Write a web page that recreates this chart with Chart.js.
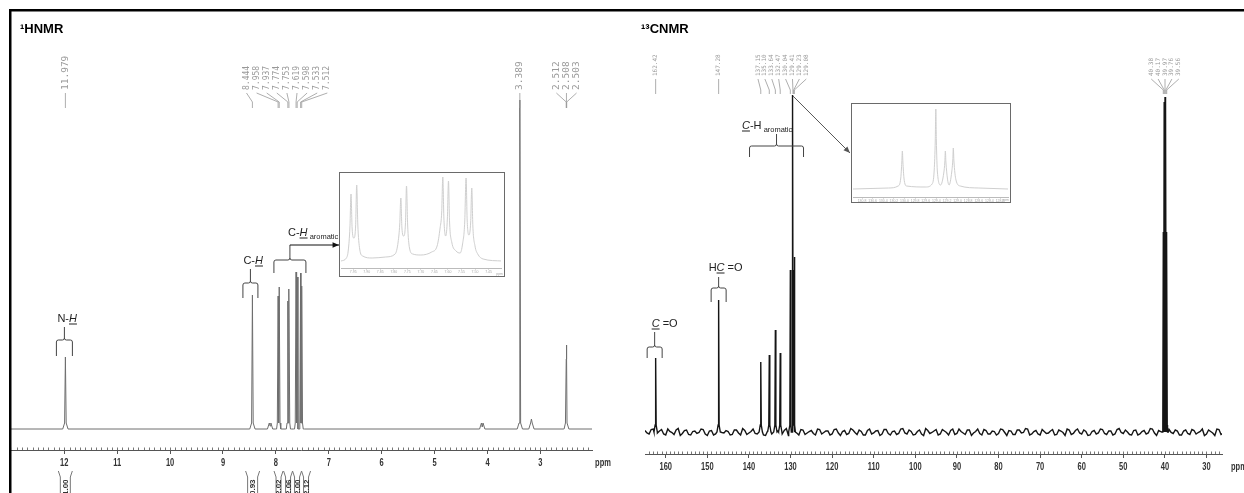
<!DOCTYPE html>
<html>
<head>
<meta charset="utf-8">
<script src="https://cdn.jsdelivr.net/npm/chart.js@4.4.1/dist/chart.umd.min.js"></script>
<style>
  body { margin: 0; background: #fff; }
  #wrap { position: relative; width: 1244px; height: 493px; overflow: hidden; background: #fff; }
  canvas { position: absolute; }
</style>
</head>
<body>
<div id="wrap">
  <canvas id="hChart" width="620" height="493" style="left:0;top:0"></canvas>
  <canvas id="cChart" width="624" height="493" style="left:620px;top:0"></canvas>
  <canvas id="hInset" width="166" height="105" style="left:339px;top:172px"></canvas>
  <canvas id="cInset" width="160" height="100" style="left:851px;top:103px"></canvas>
</div>
<script>
// ---- 1H NMR data (ppm / peak height) ----
const hTicks = [12, 11, 10, 9, 8, 7, 6, 5, 4, 3];
const hPeakPpm    = [11.979, 8.444, 8.11, 7.958, 7.937, 7.774, 7.753, 7.619, 7.598, 7.533, 7.512, 4.10, 3.389, 3.17, 2.512, 2.508, 2.503];
const hPeakHeight = [72,     134,   3,    133,   142,   128,   140,   157,   152,   156,   143,   2,    329,   10,   70,    84,    70];
const hLabelGroups = [
  ['11.979'],
  ['8.444', '7.958', '7.937', '7.774', '7.753', '7.619', '7.598', '7.533', '7.512'],
  ['3.389'],
  ['2.512', '2.508', '2.503']
];
const hIntegralPpm = [11.98, 8.44, 7.95, 7.77, 7.60, 7.43];
const hIntegralValues = ['1.00', '0.93', '2.02', '2.06', '2.00', '2.12'];

// zoomed aromatic region (inset)
const hInsetTicks = [7.95, 7.90, 7.85, 7.80, 7.75, 7.70, 7.65, 7.60, 7.55, 7.50, 7.45];
const hInsetPpm = [7.995, 7.975, 7.968, 7.962, 7.958, 7.954, 7.9475, 7.941, 7.937, 7.933, 7.926, 7.915, 7.88, 7.83,
  7.795, 7.784, 7.778, 7.774, 7.770, 7.7635, 7.757, 7.753, 7.749, 7.742, 7.73, 7.70, 7.66, 7.64, 7.629, 7.623,
  7.619, 7.615, 7.6085, 7.602, 7.598, 7.594, 7.586, 7.57, 7.555, 7.546, 7.538, 7.533, 7.529, 7.5225, 7.516,
  7.512, 7.508, 7.50, 7.49, 7.47, 7.40];
const hInsetHeight = [1, 4, 12, 35, 68, 34, 24, 36, 77, 38, 13, 6, 4, 5,
  8, 20, 38, 64, 34, 26, 38, 76, 38, 14, 8, 7, 10, 16, 34, 50,
  85, 44, 26, 44, 81, 40, 20, 11, 9, 18, 40, 84, 42, 27, 40,
  74, 36, 16, 8, 3, 1];

// ---- 13C NMR data ----
const cTicks = [160, 150, 140, 130, 120, 110, 100, 90, 80, 70, 60, 50, 40, 30];
const cPeakPpm    = [162.42, 147.28, 137.15, 135.10, 133.64, 132.47, 130.04, 129.41, 129.23, 129.08, 40.38, 40.17, 39.97, 39.76, 39.56];
const cPeakHeight = [74,     132,    70,     77,     102,    79,     162,    337,    162,    175,    200,   330,   335,   330,   200];
const cLabelGroups = [
  ['162.42'],
  ['147.28'],
  ['137.15', '135.10', '133.64', '132.47', '130.04', '129.41', '129.23', '129.08'],
  ['40.38', '40.17', '39.97', '39.76', '39.56']
];
// baseline noise: one value per ppm from 165 down, and one for each half ppm from 164.5 down
const cNoiseStart = 165;
const cNoise = [
  1.5, -2, 3, -1, 2.5, -3, 0.5, -2.5, 3.5, -1.5,
  2, -3, 1, -0.5, 2.5, -3.5, 1.5, -2, 3, -1,
  0.5, -2.5, 2, -3, 1.5, -1, 3, -2, 0.5, -3.5,
  2.5, -1.5, 1, -2, 3.5, -2.5, 0, -3, 2, -1,
  1.5, -3, 2.5, -0.5, 1, -2, 3, -3.5, 1.5, -1.5,
  2, -2.5, 0.5, -3, 3, -1, 1.5, -2, 2.5, -3,
  1, -1.5, 3.5, -2, 0.5, -2.5, 2, -3.5, 1.5, -0.5,
  2.5, -2, 1, -3, 3, -1.5, 0.5, -2.5, 2, -1,
  3, -3, 1.5, -2, 0.5, -1.5, 2.5, -3.5, 1, -2.5,
  2, -0.5, 3, -2, 1.5, -3, 0.5, -1, 2.5, -2.5,
  1, -3.5, 2, -1.5, 3, -2, 0.5, -3, 1.5, -1,
  2.5, -2.5, 1, -2, 3.5, -1.5, 0, -3, 2, -2,
  1.5, -1, 3, -3.5, 0.5, -2, 2.5, -1.5, 1, -3,
  2, -2.5, 1.5, -0.5, 3, -2, 0.5, -3.5, 2.5, -1.5
];
const cNoiseHalf = [
  -1, 2.5, -3, 1, -2, 3, -0.5, 2, -3.5, 1.5,
  -2.5, 0.5, -1.5, 3, -2, 1, -3, 2.5, -0.5, 1.5,
  -3, 2, -1, 3.5, -2.5, 0.5, -1.5, 2.5, -3, 1,
  -2, 3, -0.5, 1.5, -3.5, 2, -1, 2.5, -2.5, 0.5,
  -1.5, 3, -2, 1, -3, 2.5, -1, 0.5, -2.5, 3.5,
  -0.5, 2, -3, 1.5, -2, 1, -3.5, 2.5, -1.5, 0.5,
  -2.5, 3, -1, 2, -3, 0.5, -2, 3.5, -1.5, 1,
  -3, 2.5, -0.5, 1.5, -2.5, 3, -1, 2, -3.5, 0.5,
  -1.5, 2.5, -2, 1, -3, 3, -0.5, 1.5, -2.5, 2,
  -1, 3.5, -3, 0.5, -2, 2.5, -1.5, 1, -3, 2,
  -0.5, 3, -2.5, 1.5, -1, 2, -3.5, 0.5, -2, 3,
  -1.5, 1, -3, 2.5, -0.5, 2, -2.5, 1.5, -3, 0.5,
  -2, 3.5, -1, 1.5, -2.5, 3, -0.5, 2, -3, 1,
  -1.5, 2.5, -2, 0.5, -3.5, 2, -1, 3, -2.5
];
const cInsetTicks = [130.8, 130.6, 130.4, 130.2, 130.0, 129.8, 129.6, 129.4, 129.2, 129.0, 128.8, 128.6, 128.4, 128.2];
const cInsetPpm    = [130.97, 130.3, 130.12, 130.07, 130.05, 130.04, 130.03, 130.01, 129.96, 129.6, 129.48, 129.44, 129.42,
  129.41, 129.40, 129.38, 129.32, 129.26, 129.24, 129.23, 129.22, 129.16, 129.11, 129.09, 129.08, 129.07, 129.03, 128.95, 128.6, 128.05];
const cInsetHeight = [1, 2, 4, 12, 28, 39, 28, 12, 4, 3, 6, 20, 50,
  81, 50, 18, 5, 17, 28, 39, 28, 5, 18, 30, 42, 30, 10, 4, 2, 1];

// stick peaks: narrow triangle with a small foot, on top of an optional baseline
function stickSpectrum(ppm, height, base, halfBase, foot) {
  let pts = base.slice();
  pts = pts.filter(p => !ppm.some(q => Math.abs(p.x - q) < halfBase));
  ppm.forEach((p, i) => {
    pts.push({ x: p + halfBase, y: 0 }, { x: p + halfBase * 0.3, y: foot },
      { x: p, y: height[i] }, { x: p - halfBase * 0.3, y: foot }, { x: p - halfBase, y: 0 });
  });
  return pts.sort((a, b) => b.x - a.x);
}

function brace(ctx, cx, top, bar, half, leg) {
  ctx.beginPath();
  ctx.moveTo(cx - half, leg);
  ctx.lineTo(cx - half, bar + 2);
  ctx.quadraticCurveTo(cx - half, bar, cx - half + 2, bar);
  ctx.lineTo(cx - 2, bar);
  ctx.quadraticCurveTo(cx, bar, cx, bar - 2);
  ctx.lineTo(cx, top);
  ctx.moveTo(cx, bar - 2);
  ctx.quadraticCurveTo(cx, bar, cx + 2, bar);
  ctx.lineTo(cx + half - 2, bar);
  ctx.quadraticCurveTo(cx + half, bar, cx + half, bar + 2);
  ctx.lineTo(cx + half, leg);
  ctx.stroke();
}

// parts: [text, style]  '' normal, 'u' italic+underline, 's' subscript
function drawParts(ctx, parts, x, y, size) {
  ctx.textAlign = 'left';
  ctx.textBaseline = 'alphabetic';
  parts.forEach(([t, s]) => {
    if (s === 's') ctx.font = (size * 0.68) + 'px "Liberation Sans"';
    else if (s === 'u') ctx.font = 'italic ' + size + 'px "Liberation Sans"';
    else ctx.font = size + 'px "Liberation Sans"';
    const yy = s === 's' ? y + 3 : y;
    ctx.fillText(t, x, yy);
    const w = ctx.measureText(t).width;
    if (s === 'u') { ctx.fillRect(x, y + 1.5, w, 1); }
    x += w;
  });
}

function arrow(ctx, x0, y0, x1, y1, col) {
  const a = Math.atan2(y1 - y0, x1 - x0);
  ctx.strokeStyle = col; ctx.fillStyle = col;
  ctx.beginPath(); ctx.moveTo(x0, y0); ctx.lineTo(x1, y1); ctx.stroke();
  ctx.beginPath();
  ctx.moveTo(x1, y1);
  ctx.lineTo(x1 - 7 * Math.cos(a - 0.4), y1 - 7 * Math.sin(a - 0.4));
  ctx.lineTo(x1 - 7 * Math.cos(a + 0.4), y1 - 7 * Math.sin(a + 0.4));
  ctx.closePath(); ctx.fill();
}

function peakLabels(ctx, X, groups, o) {
  ctx.fillStyle = '#999'; ctx.strokeStyle = '#999'; ctx.lineWidth = 0.8;
  groups.forEach(g => {
    const mean = g.reduce((a, b) => a + Number(b), 0) / g.length;
    const cx = X(mean);
    const size = g.length > 4 ? o.groupSize : o.size;
    ctx.font = size + 'px "DejaVu Sans Mono"';
    g.forEach((lab, i) => {
      const lx = cx + (i - (g.length - 1) / 2) * o.gap;
      const px = X(Number(lab));
      ctx.save();
      ctx.translate(lx, o.textBottom);
      ctx.rotate(-Math.PI / 2);
      ctx.textAlign = 'left'; ctx.textBaseline = 'middle';
      ctx.fillText(lab, 0, 0);
      ctx.restore();
      ctx.beginPath();
      ctx.moveTo(lx, o.l0); ctx.lineTo(px, o.l1); ctx.lineTo(px, o.l2);
      ctx.stroke();
    });
  });
}

function axisText(ctx, X, ticks, y, minorStep, minorFrom, minorTo, axisY) {
  ctx.fillStyle = '#333';
  ctx.font = 'bold 10px "Liberation Sans"';
  ctx.textAlign = 'center'; ctx.textBaseline = 'middle';
  ticks.forEach(t => {
    ctx.save(); ctx.translate(X(t), y); ctx.scale(0.75, 1);
    ctx.fillText(String(t), 0, 0); ctx.restore();
  });
  ctx.strokeStyle = '#777'; ctx.lineWidth = 1;
  ctx.beginPath();
  for (let k = minorFrom; k <= minorTo; k++) {
    const x = Math.round(X(k * minorStep)) + 0.5;
    ctx.moveTo(x, axisY - 2.5); ctx.lineTo(x, axisY);
  }
  ctx.stroke();
}

function baseOptions(xmin, xmax, ymin, ymax, pad, axisH, tickLen, tickArr) {
  return {
    responsive: false, animation: false,
    layout: { padding: pad },
    plugins: { legend: { display: false }, tooltip: { enabled: false } },
    elements: { point: { radius: 0 } },
    scales: {
      x: {
        type: 'linear', reverse: true, min: xmin, max: xmax,
        afterBuildTicks: s => { s.ticks = tickArr.map(v => ({ value: v })); },
        afterFit: s => { s.height = axisH; },
        grid: { drawOnChartArea: false, drawTicks: true, tickLength: tickLen, color: '#555' },
        border: { display: true, color: '#555', width: 1 },
        ticks: { display: false }
      },
      y: { display: false, min: ymin, max: ymax }
    }
  };
}

// ---------- 1H chart ----------
const hOpts = baseOptions(2.025, 13.026, -21, 409, { left: 10, right: 28, top: 20, bottom: 0 }, 43, 4, hTicks);
new Chart(document.getElementById('hChart'), {
  type: 'line',
  data: {
    datasets: [{
      data: stickSpectrum(hPeakPpm, hPeakHeight, [{ x: 13.2, y: 0 }, { x: 1.9, y: 0 }], 0.05, 6),
      borderColor: '#6e6e6e', borderWidth: 1, tension: 0, fill: false
    }]
  },
  options: hOpts,
  plugins: [{
    id: 'hDecor',
    afterDraw(chart) {
      const ctx = chart.ctx, xs = chart.scales.x;
      const X = v => xs.getPixelForValue(v);
      ctx.save();
      // frame
      ctx.fillStyle = '#000';
      ctx.fillRect(9, 9, 611, 2.5);
      ctx.fillRect(9, 9, 2.5, 484);
      ctx.font = 'bold 13px "Liberation Sans"';
      ctx.textAlign = 'left'; ctx.textBaseline = 'alphabetic';
      ctx.fillText('\u00b9HNMR', 20, 33);

      axisText(ctx, X, hTicks, 463, 0.1, 21, 130, 450);
      ctx.save(); ctx.translate(603, 463); ctx.scale(0.75, 1);
      ctx.fillStyle = '#333'; ctx.font = 'bold 10px "Liberation Sans"'; ctx.textAlign = 'center';
      ctx.fillText('ppm', 0, 0); ctx.restore();

      peakLabels(ctx, X, hLabelGroups, { size: 9.5, groupSize: 8, gap: 10.1, textBottom: 90, l0: 93, l1: 102, l2: 108 });

      // assignments
      ctx.fillStyle = '#222'; ctx.strokeStyle = '#444'; ctx.lineWidth = 1;
      const pNH = X(11.979), pCH = X(8.444), pAr = X(7.735);
      drawParts(ctx, [['N-', ''], ['H', 'u']], pNH - 8, 322, 11);
      brace(ctx, pNH - 1, 327, 340, 8, 356);
      drawParts(ctx, [['C-', ''], ['H', 'u']], pCH - 9, 264, 11);
      brace(ctx, pCH - 2, 269, 283, 7.5, 298);
      drawParts(ctx, [['C-', ''], ['H', 'u'], [' aromatic', 's']], 288, 236, 11);
      brace(ctx, pAr, 245, 260, 16, 273);
      arrow(ctx, pAr, 245, 339, 245, '#111');

      // integrals
      ctx.strokeStyle = '#777';
      hIntegralPpm.forEach((p, i) => {
        const x = X(p), hw = i < 2 ? 7 : 4.5;
        ctx.beginPath();
        ctx.moveTo(x - hw, 471); ctx.lineTo(x - hw + 2, 477); ctx.lineTo(x - hw + 2, 493);
        ctx.moveTo(x + hw, 471); ctx.lineTo(x + hw - 2, 477); ctx.lineTo(x + hw - 2, 493);
        ctx.stroke();
        ctx.save(); ctx.translate(x + 0.5, 495); ctx.rotate(-Math.PI / 2);
        ctx.fillStyle = '#333'; ctx.font = 'bold 8px "Liberation Sans"';
        ctx.textAlign = 'left'; ctx.textBaseline = 'middle';
        ctx.fillText(hIntegralValues[i], 0, 0); ctx.restore();
      });
      ctx.restore();
    }
  }]
});

// ---------- 13C chart ----------
const OX = 620;
const cBase = cNoise.map((v, i) => ({ x: cNoiseStart - i, y: v }))
  .concat(cNoiseHalf.map((v, i) => ({ x: cNoiseStart - 0.5 - i, y: v })));
const cOpts = baseOptions(26.27, 164.98, -22, 412, { left: 25, right: 22, top: 20, bottom: 0 }, 39, 4, cTicks);
new Chart(document.getElementById('cChart'), {
  type: 'line',
  data: {
    datasets: [{
      data: stickSpectrum(cPeakPpm, cPeakHeight, cBase, 0.4, 7),
      borderColor: '#151515', borderWidth: 1.4, tension: 0, fill: false
    }]
  },
  options: cOpts,
  plugins: [{
    id: 'cDecor',
    afterDraw(chart) {
      const ctx = chart.ctx, xs = chart.scales.x;
      const X = v => xs.getPixelForValue(v) + OX;
      ctx.save();
      ctx.translate(-OX, 0);
      ctx.fillStyle = '#000';
      ctx.fillRect(OX, 9, 624, 2.5);
      ctx.font = 'bold 13px "Liberation Sans"';
      ctx.textAlign = 'left'; ctx.textBaseline = 'alphabetic';
      ctx.fillText('\u00b9\u00b3CNMR', 641, 33);

      axisText(ctx, X, cTicks, 467, 1, 27, 164, 454);
      ctx.save(); ctx.translate(1231, 467); ctx.scale(0.75, 1);
      ctx.fillStyle = '#333'; ctx.font = 'bold 10px "Liberation Sans"'; ctx.textAlign = 'left';
      ctx.fillText('ppm', 0, 0); ctx.restore();

      peakLabels(ctx, X, cLabelGroups, { size: 6, groupSize: 6, gap: 6.9, textBottom: 76, l0: 79, l1: 90, l2: 94 });

      ctx.fillStyle = '#222'; ctx.strokeStyle = '#444'; ctx.lineWidth = 1;
      const pCO = X(162.42), pHCO = X(147.28), pAr = X(132.4);
      drawParts(ctx, [['C', 'u'], [' =O', '']], pCO - 4, 327, 11);
      brace(ctx, pCO - 1, 332, 347, 7.5, 358);
      drawParts(ctx, [['H', ''], ['C', 'u'], [' =O', '']], pHCO - 10, 271, 11);
      brace(ctx, pHCO, 277, 288, 7.5, 302);
      drawParts(ctx, [['C', 'u'], ['-H', ''], [' aromatic', 's']], 742, 129, 11);
      brace(ctx, pAr - 4, 134, 146, 27, 157);
      arrow(ctx, X(129.41), 96, 850, 153, '#555');
      ctx.restore();
    }
  }]
});

// ---------- insets ----------
function insetChart(id, ppm, height, ticks, xmin, xmax, ymin, ymax, pad, axisH) {
  const o = baseOptions(xmin, xmax, ymin, ymax, pad, axisH, 1.5, ticks);
  o.scales.x.grid.color = '#bbb';
  o.scales.x.border.color = '#bbb';
  o.scales.x.ticks = { display: true, font: { size: 3.5, family: 'Liberation Sans' }, color: '#aaa', padding: 0.5, maxRotation: 0, autoSkip: false };
  new Chart(document.getElementById(id), {
    type: 'line',
    data: {
      datasets: [{
        data: ppm.map((p, i) => ({ x: p, y: height[i] })),
        borderColor: '#cfcfcf', borderWidth: 1, cubicInterpolationMode: 'monotone', fill: false
      }]
    },
    options: o,
    plugins: [{
      id: 'box',
      beforeDraw(chart) {
        const c = chart.ctx;
        c.save(); c.fillStyle = '#fff'; c.fillRect(0, 0, chart.width, chart.height); c.restore();
      },
      afterDraw(chart) {
        const c = chart.ctx;
        c.save();
        c.strokeStyle = '#6a6a6a'; c.lineWidth = 1;
        c.strokeRect(0.5, 0.5, chart.width - 1, chart.height - 1);
        c.fillStyle = '#aaa'; c.font = '3.5px "Liberation Sans"'; c.textAlign = 'right';
        c.fillText('ppm', chart.width - 2, chart.height - 2.5);
        c.restore();
      }
    }]
  });
}
insetChart('hInset', hInsetPpm, hInsetHeight, hInsetTicks, 7.404, 7.995, -6, 88, { left: 2, right: 4, top: 2, bottom: 0 }, 9);
insetChart('cInset', cInsetPpm, cInsetHeight, cInsetTicks, 128.05, 130.97, -7, 85, { left: 2, right: 3, top: 2, bottom: 0 }, 6);
</script>
</body>
</html>
